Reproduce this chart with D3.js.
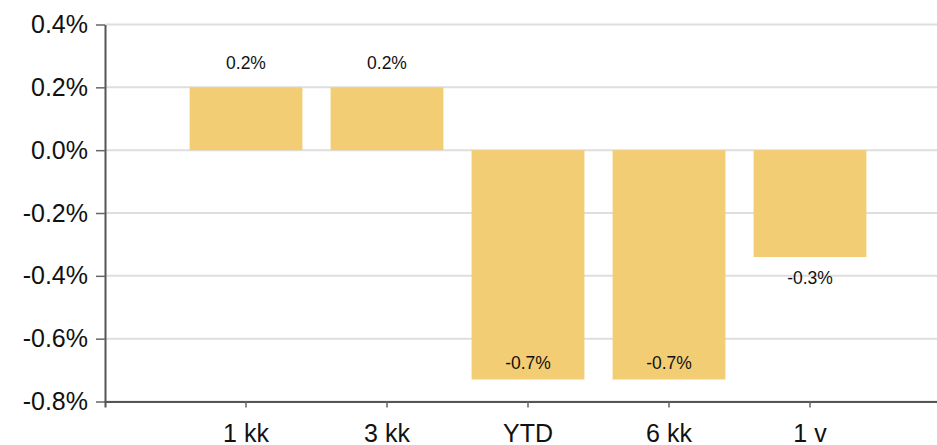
<!DOCTYPE html>
<html>
<head>
<meta charset="utf-8">
<script src="https://cdn.jsdelivr.net/npm/d3@7"></script>
<style>
  html, body { margin: 0; padding: 0; background: #fff; }
  svg { display: block; }
</style>
</head>
<body>
<svg id="chart" width="937" height="445"></svg>
<script>
// Returns by period (percent)
const categories = ["1 kk", "3 kk", "YTD", "6 kk", "1 v"];
const values = [0.20, 0.20, -0.73, -0.73, -0.34];
const yTicks = [0.4, 0.2, 0.0, -0.2, -0.4, -0.6, -0.8];

const W = 937, H = 445;
const margin = { left: 105, top: 24, bottom: 43 };
const plotRight = 951;
const svg = d3.select("#chart");

const x = d3.scaleBand()
  .domain(categories)
  .range([margin.left, plotRight])
  .paddingInner(0)
  .paddingOuter(0.5);

const y = d3.scaleLinear()
  .domain([-0.8, 0.4])
  .range([H - margin.bottom - 0.5, margin.top + 0.5]);

const barW = x.bandwidth() * 0.8;
const fmt = v => (Math.round(v * 10) / 10).toFixed(1) + "%";

// horizontal gridlines
svg.append("g")
  .selectAll("line")
  .data(yTicks)
  .join("line")
  .attr("x1", margin.left)
  .attr("x2", W)
  .attr("y1", d => y(d))
  .attr("y2", d => y(d))
  .attr("stroke", "#dedede")
  .attr("stroke-width", 2);

// bars
svg.append("g")
  .selectAll("rect")
  .data(values)
  .join("rect")
  .attr("x", (d, i) => x(categories[i]) + (x.bandwidth() - barW) / 2)
  .attr("width", barW)
  .attr("y", d => y(Math.max(0, d)))
  .attr("height", d => Math.abs(y(d) - y(0)))
  .attr("fill", "#f3cd74");

// value labels: above positive bars, below negative bars unless too close to the axis
const plotBottom = y(-0.8);
svg.append("g")
  .selectAll("text")
  .data(values)
  .join("text")
  .attr("x", (d, i) => x(categories[i]) + x.bandwidth() / 2)
  .attr("y", d => {
    if (d >= 0) return y(d) - 24;
    const below = y(d) + 21;
    return below + 12 > plotBottom ? y(d) - 17 : below;
  })
  .attr("dy", "0.35em")
  .attr("text-anchor", "middle")
  .attr("font-family", "'Liberation Sans', Arial, sans-serif")
  .attr("font-size", 17.5)
  .attr("fill", "#111")
  .text(d => fmt(d));

// y axis
const yAxis = svg.append("g")
  .attr("transform", `translate(${margin.left},0)`)
  .call(d3.axisLeft(y).tickValues(yTicks).tickSize(9).tickSizeOuter(0).tickPadding(8)
    .tickFormat(d => d.toFixed(1) + "%"));

// x axis
const xAxis = svg.append("g")
  .attr("transform", `translate(0,${y(-0.8)})`)
  .call(d3.axisBottom(x).tickSize(6).tickSizeOuter(6).tickPadding(17));

[yAxis, xAxis].forEach(g => {
  g.select(".domain").attr("stroke", "#555").attr("stroke-width", 2);
  g.selectAll(".tick line").attr("stroke", "#666").attr("stroke-width", 1.5);
  g.selectAll(".tick text")
    .attr("font-family", "'Liberation Sans', Arial, sans-serif")
    .attr("font-size", 25)
    .attr("fill", "#111");
});
</script>
</body>
</html>
